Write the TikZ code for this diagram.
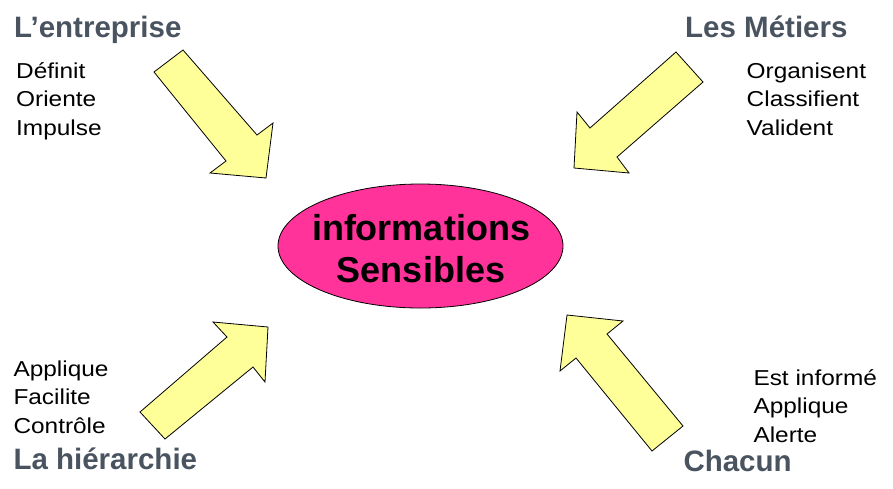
\documentclass[tikz,border=0pt]{standalone}
\usepackage{fontspec}
\setmainfont{Liberation Sans}
\newfontfamily\listfont[FakeStretch=1.13]{Liberation Sans}
\usetikzlibrary{shapes.geometric}
\definecolor{titlegray}{RGB}{74,84,96}
\definecolor{pinkfill}{RGB}{255,51,153}
\definecolor{arrowfill}{RGB}{255,255,153}
\tikzset{
  x=1pt, y=-1pt,
  title/.style={anchor=base west, inner sep=0pt, text=titlegray,
    font=\fontsize{29.5}{34}\selectfont\bfseries},
  item/.style={anchor=base west, inner sep=0pt,
    font=\listfont\fontsize{21.6}{25}\selectfont},
  blockarrow/.style={draw=black, line width=0.8pt, fill=arrowfill, line join=miter},
}
\begin{document}
\begin{tikzpicture}
\useasboundingbox (0,0) rectangle (893,488);

% central ellipse
\node[ellipse, draw=black, line width=0.8pt, fill=pinkfill, inner sep=0pt,
      minimum width=285pt, minimum height=124pt] (info) at (420.5,246) {};
\node[align=center, inner sep=0pt,
      font=\fontsize{36}{42}\selectfont\bfseries] (infotext) at (421,248.5)
  {informations\\Sensibles};

% four block arrows pointing at the ellipse
\draw[blockarrow] (154,72) -- (183,50) -- (257,135) -- (273,123) -- (266,178)
  -- (210,173) -- (226,161) -- cycle;
\draw[blockarrow] (676,52) -- (703,82) -- (617,157) -- (629,173) -- (574,168)
  -- (577,112) -- (590,128) -- cycle;
\draw[blockarrow] (140,412) -- (165,439) -- (253,367) -- (265,382) -- (268,327)
  -- (213,322) -- (227,337) -- cycle;
\draw[blockarrow] (683,426) -- (652,451) -- (576,358) -- (560,371) -- (567,315)
  -- (623,321) -- (607,334) -- cycle;

% top left
\node[title] (ent) at (14,37) {L’entreprise};
\node[item] (ent1) at (16,78.3) {Définit};
\node[item] (ent2) at (16,106.7) {Oriente};
\node[item] (ent3) at (16,135) {Impulse};

% top right
\node[title] (met) at (685,37) {Les Métiers};
\node[item] (met1) at (746.5,78.3) {Organisent};
\node[item] (met2) at (746.5,106.7) {Classifient};
\node[item] (met3) at (746.5,135) {Valident};

% bottom left
\node[item] (hie1) at (13.3,376) {Applique};
\node[item] (hie2) at (13.3,404.7) {Facilite};
\node[item] (hie3) at (13.3,433.3) {Contrôle};
\node[title] (hie) at (13.3,469.5) {La hiérarchie};

% bottom right
\node[item] (cha1) at (753.3,385.7) {Est informé};
\node[item] (cha2) at (753.3,413.8) {Applique};
\node[item] (cha3) at (753.3,442.3) {Alerte};
\node[title] (cha) at (683.3,471) {Chacun};
\end{tikzpicture}
\end{document}
